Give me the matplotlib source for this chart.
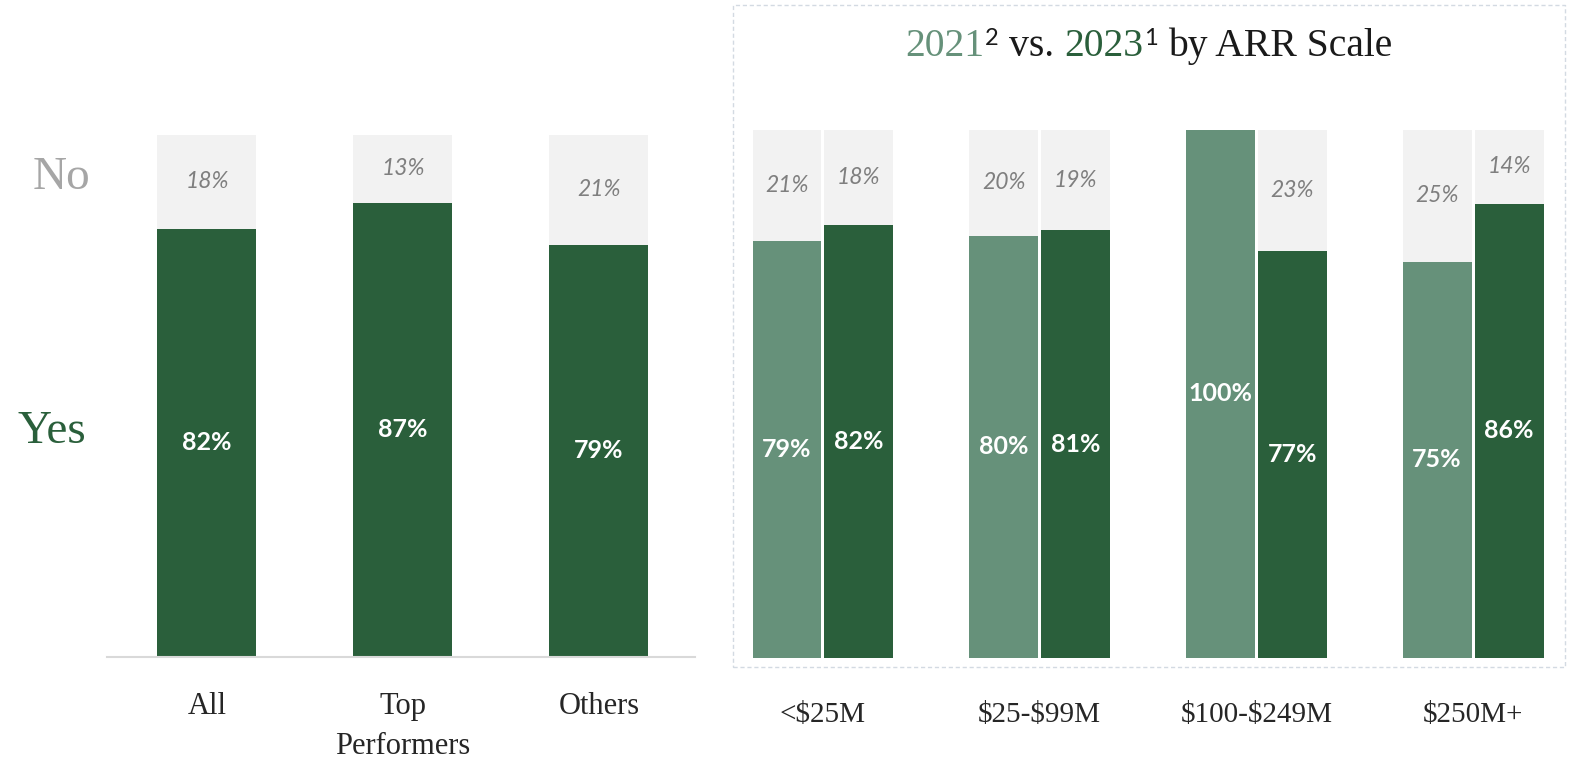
import matplotlib
matplotlib.use("Agg")
import matplotlib.pyplot as plt
from matplotlib.patches import Rectangle
import numpy as np

# ---------------- data ----------------
left_cats = ["All", "Top\nPerformers", "Others"]
left_yes = [82, 87, 79]
left_no = [18, 13, 21]

right_cats = ["<$25M", "$25-$99M", "$100-$249M", "$250M+"]
yes_2021 = [79, 80, 100, 75]
no_2021 = [21, 20, 0, 25]
yes_2023 = [82, 81, 77, 86]
no_2023 = [18, 19, 23, 14]

# ---------------- style ----------------
DARK = "#2A5F3B"
LIGHT = "#66917A"
GRAY_BAR = "#F2F2F2"
GRAY_TXT = "#7F7F7F"
SERIF = ["Liberation Serif", "DejaVu Serif"]
SANS = ["Lato", "DejaVu Sans"]

W, H = 1580, 770
fig = plt.figure(figsize=(W / 100, H / 100), dpi=100)


def px(x0, y_top, x1, y_bot):
    return [x0 / W, 1 - y_bot / H, (x1 - x0) / W, (y_bot - y_top) / H]


def label_bars(ax, xs, yes, no):
    for x, y, n in zip(xs, yes, no):
        if y > 0:
            ax.text(x, y / 2, f"{y}%", ha="center", va="center", color="white",
                    fontsize=18, fontweight="bold", family=SANS)
        if n > 0:
            ax.text(x, y + n / 2, f"{n}%", ha="center", va="center", color=GRAY_TXT,
                    fontsize=16.5, style="italic", family=SANS)


# ---------------- left panel ----------------
axL = fig.add_axes(px(107, 135, 695, 657))
xl = np.arange(len(left_cats))
wl = 0.505
axL.bar(xl, left_yes, width=wl, color=DARK, zorder=2)
axL.bar(xl, left_no, width=wl, bottom=left_yes, color=GRAY_BAR, zorder=2)
label_bars(axL, xl, left_yes, left_no)
axL.set_xlim(-0.51, 2.49)
axL.set_ylim(0, 100)
for s in ["top", "right", "left"]:
    axL.spines[s].set_visible(False)
axL.spines["bottom"].set_color("#D9D9D9")
axL.spines["bottom"].set_linewidth(1.5)
axL.set_yticks([])
axL.set_xticks(xl)
axL.set_xticklabels(left_cats, family=SERIF, fontsize=22, color="#262626", linespacing=1.52)
axL.tick_params(axis="x", length=0, pad=25)

fig.text(62 / W, 1 - 178 / H, "No", ha="center", va="center", family=SERIF,
         fontsize=34, color="#A6A6A6")
fig.text(52 / W, 1 - 432 / H, "Yes", ha="center", va="center", family=SERIF,
         fontsize=34, color=DARK)

# ---------------- right panel ----------------
axR = fig.add_axes(px(733, 130, 1565, 658))
xr = np.arange(len(right_cats))
wr = 0.318
off = 0.166
axR.bar(xr - off, yes_2021, width=wr, color=LIGHT, zorder=2)
axR.bar(xr - off, no_2021, width=wr, bottom=yes_2021, color=GRAY_BAR, zorder=2)
axR.bar(xr + off, yes_2023, width=wr, color=DARK, zorder=2)
axR.bar(xr + off, no_2023, width=wr, bottom=yes_2023, color=GRAY_BAR, zorder=2)
label_bars(axR, xr - off, yes_2021, no_2021)
label_bars(axR, xr + off, yes_2023, no_2023)
axR.set_xlim(-0.415, 3.424)
axR.set_ylim(0, 100)
for s in axR.spines.values():
    s.set_visible(False)
axR.set_yticks([])
axR.set_xticks(xr)
axR.set_xticklabels([c.replace("$", r"\$") for c in right_cats], family=SERIF,
                    fontsize=21, color="#262626")
axR.tick_params(axis="x", length=0, pad=32)
axR.patch.set_alpha(0)

# dashed frame
fig.patches.append(Rectangle((733 / W, 1 - 667 / H), (1565 - 733) / W, (667 - 5) / H,
                             transform=fig.transFigure, fill=False, ls=(0, (3, 2)),
                             ec="#D3DAE2", lw=1.0))

# ---------------- title ----------------
renderer = fig.canvas.get_renderer()
pieces = [
    ("2021", LIGHT, 28.5, 0, SERIF, 0),
    ("2", "#1A1A1A", 17, 11, SANS, 0),
    ("vs.", "#1A1A1A", 28.5, 0, SERIF, 9),
    ("2023", DARK, 28.5, 0, SERIF, 9),
    ("1", "#1A1A1A", 17, 11, SANS, 0),
    ("by ARR Scale", "#1A1A1A", 28.5, 0, SERIF, 9),
]
base_y = 56
texts = []
x = 0.0
for s, c, fs, rise, fam, gap in pieces:
    x += gap
    t = fig.text(x / W, 1 - (base_y - rise) / H, s, color=c, fontsize=fs, family=fam,
                 ha="left", va="baseline")
    w = t.get_window_extent(renderer).width
    texts.append((t, x, rise))
    x += w + 1
total = x
start = (733 + 1565) / 2 - total / 2
for t, xx, rise in texts:
    t.set_x((start + xx) / W)

fig.savefig("out.png", dpi=100)
